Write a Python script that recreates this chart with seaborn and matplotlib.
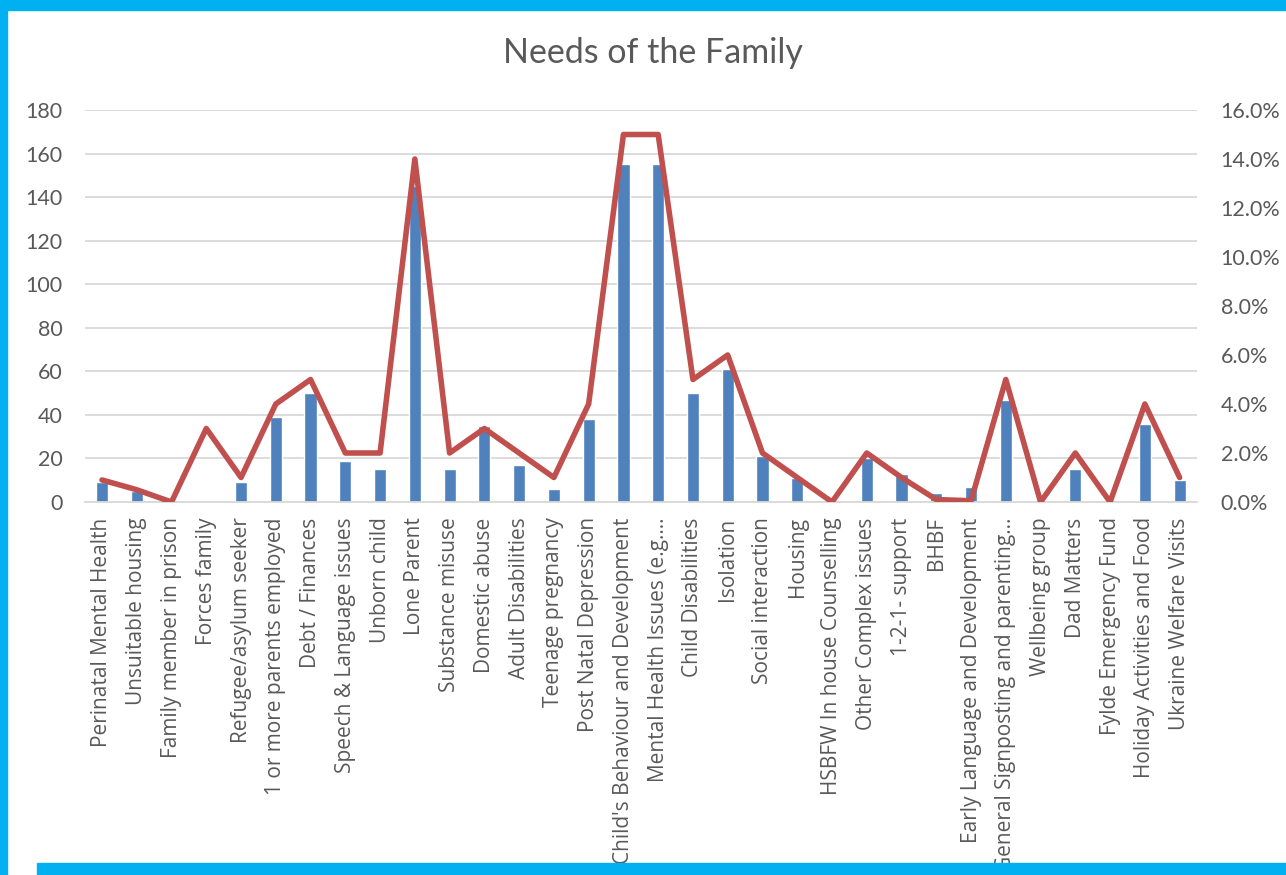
import numpy as np
import pandas as pd
import matplotlib
matplotlib.use("Agg")
import matplotlib.pyplot as plt
from matplotlib.patches import Rectangle
from matplotlib.ticker import FuncFormatter
import seaborn as sns

# data
needs = [
    "Perinatal Mental Health", "Unsuitable housing", "Family member in prison",
    "Forces family", "Refugee/asylum seeker", "1 or more parents employed",
    "Debt / Finances", "Speech & Language issues", "Unborn child", "Lone Parent",
    "Substance misuse", "Domestic abuse", "Adult Disabilities", "Teenage pregnancy",
    "Post Natal Depression", "Child's Behaviour and Development",
    "Mental Health Issues (e.g.…", "Child Disabilities", "Isolation",
    "Social interaction", "Housing", "HSBFW In house Counselling",
    "Other Complex issues", "1-2-1- support", "BHBF",
    "Early Language and Development", "General Signposting and parenting…",
    "Wellbeing group", "Dad Matters", "Fylde Emergency Fund",
    "Holiday Activities and Food", "Ukraine Welfare Visits",
]
counts = [9, 5, 1, 0, 9, 39, 50, 19, 15, 145, 15, 35, 17, 6, 38, 155, 155,
          50, 61, 21, 11, 0, 20, 13, 4, 7, 47, 1, 15, 1, 36, 10]
percent = [0.9, 0.5, 0.0, 3.0, 1.0, 4.0, 5.0, 2.0, 2.0, 14.0, 2.0, 3.0, 2.0,
           1.0, 4.0, 15.0, 15.0, 5.0, 6.0, 2.0, 1.0, 0.0, 2.0, 1.0, 0.1, 0.05,
           5.0, 0.0, 2.0, 0.0, 4.0, 1.0]

df = pd.DataFrame({"need": needs, "count": counts, "percent": percent})
n = len(df)

sns.set_theme(style="white")
plt.rcParams["font.family"] = ["Open Sans", "DejaVu Sans"]

W, H = 1286, 875
fig = plt.figure(figsize=(W / 100, H / 100), dpi=100)
left, right, top, bottom = 84.6, 1197, 110, 502
ax = fig.add_axes([left / W, 1 - bottom / H, (right - left) / W, (bottom - top) / H])

sns.barplot(data=df, x="need", y="count", color="#4F81BD", saturation=1,
            width=0.35, ax=ax)
ax2 = ax.twinx()
sns.lineplot(x=np.arange(n), y=df["percent"], ax=ax2, color="#C0504D",
             linewidth=4, solid_joinstyle="round")

ax.set_xlim(-0.5, n - 0.5)
ax.set_ylim(0, 180)
ax.set_yticks(range(0, 181, 20))
ax2.set_ylim(0, 16)
ax2.set_yticks(range(0, 17, 2))
ax2.yaxis.set_major_formatter(FuncFormatter(lambda v, p: f"{v:.1f}%"))

ax.set_axisbelow(True)
ax.yaxis.grid(True, color="#D9D9D9", linewidth=1.3)
for a in (ax, ax2):
    for s in a.spines.values():
        s.set_visible(False)
    a.set_xlabel("")
    a.set_ylabel("")
ax.spines["bottom"].set_visible(True)
ax.spines["bottom"].set_color("#D9D9D9")
ax.spines["bottom"].set_linewidth(1.3)

ax.tick_params(axis="both", length=0, colors="#595959")
ax.tick_params(axis="y", labelsize=15.5, pad=16)
ax.tick_params(axis="x", labelsize=15, pad=11)
ax2.tick_params(axis="y", length=0, colors="#595959", labelsize=15.5, pad=17)
for lab in ax.get_xticklabels():
    lab.set_rotation(90)
    lab.set_ha("center")
    lab.set_va("top")
for lab in ax.get_yticklabels() + ax2.get_yticklabels():
    lab.set_family(["Lato", "DejaVu Sans"])

fig.text(653 / W, 1 - 53 / H, "Needs of the Family", ha="center", va="center",
         fontsize=24.5, color="#595959", family=["Lato", "DejaVu Sans"])

# blue frame around the chart
cyan = "#00B0F0"
fig.add_artist(Rectangle((0, 1 - 10 / H), 1, 10 / H, transform=fig.transFigure,
                         color=cyan, zorder=10))
fig.add_artist(Rectangle((0, 0), 7 / W, 1, transform=fig.transFigure,
                         color=cyan, zorder=10))
fig.add_artist(Rectangle((37 / W, 0), 1, 12 / H, transform=fig.transFigure,
                         color=cyan, zorder=10))

fig.savefig("out.png", dpi=100)
